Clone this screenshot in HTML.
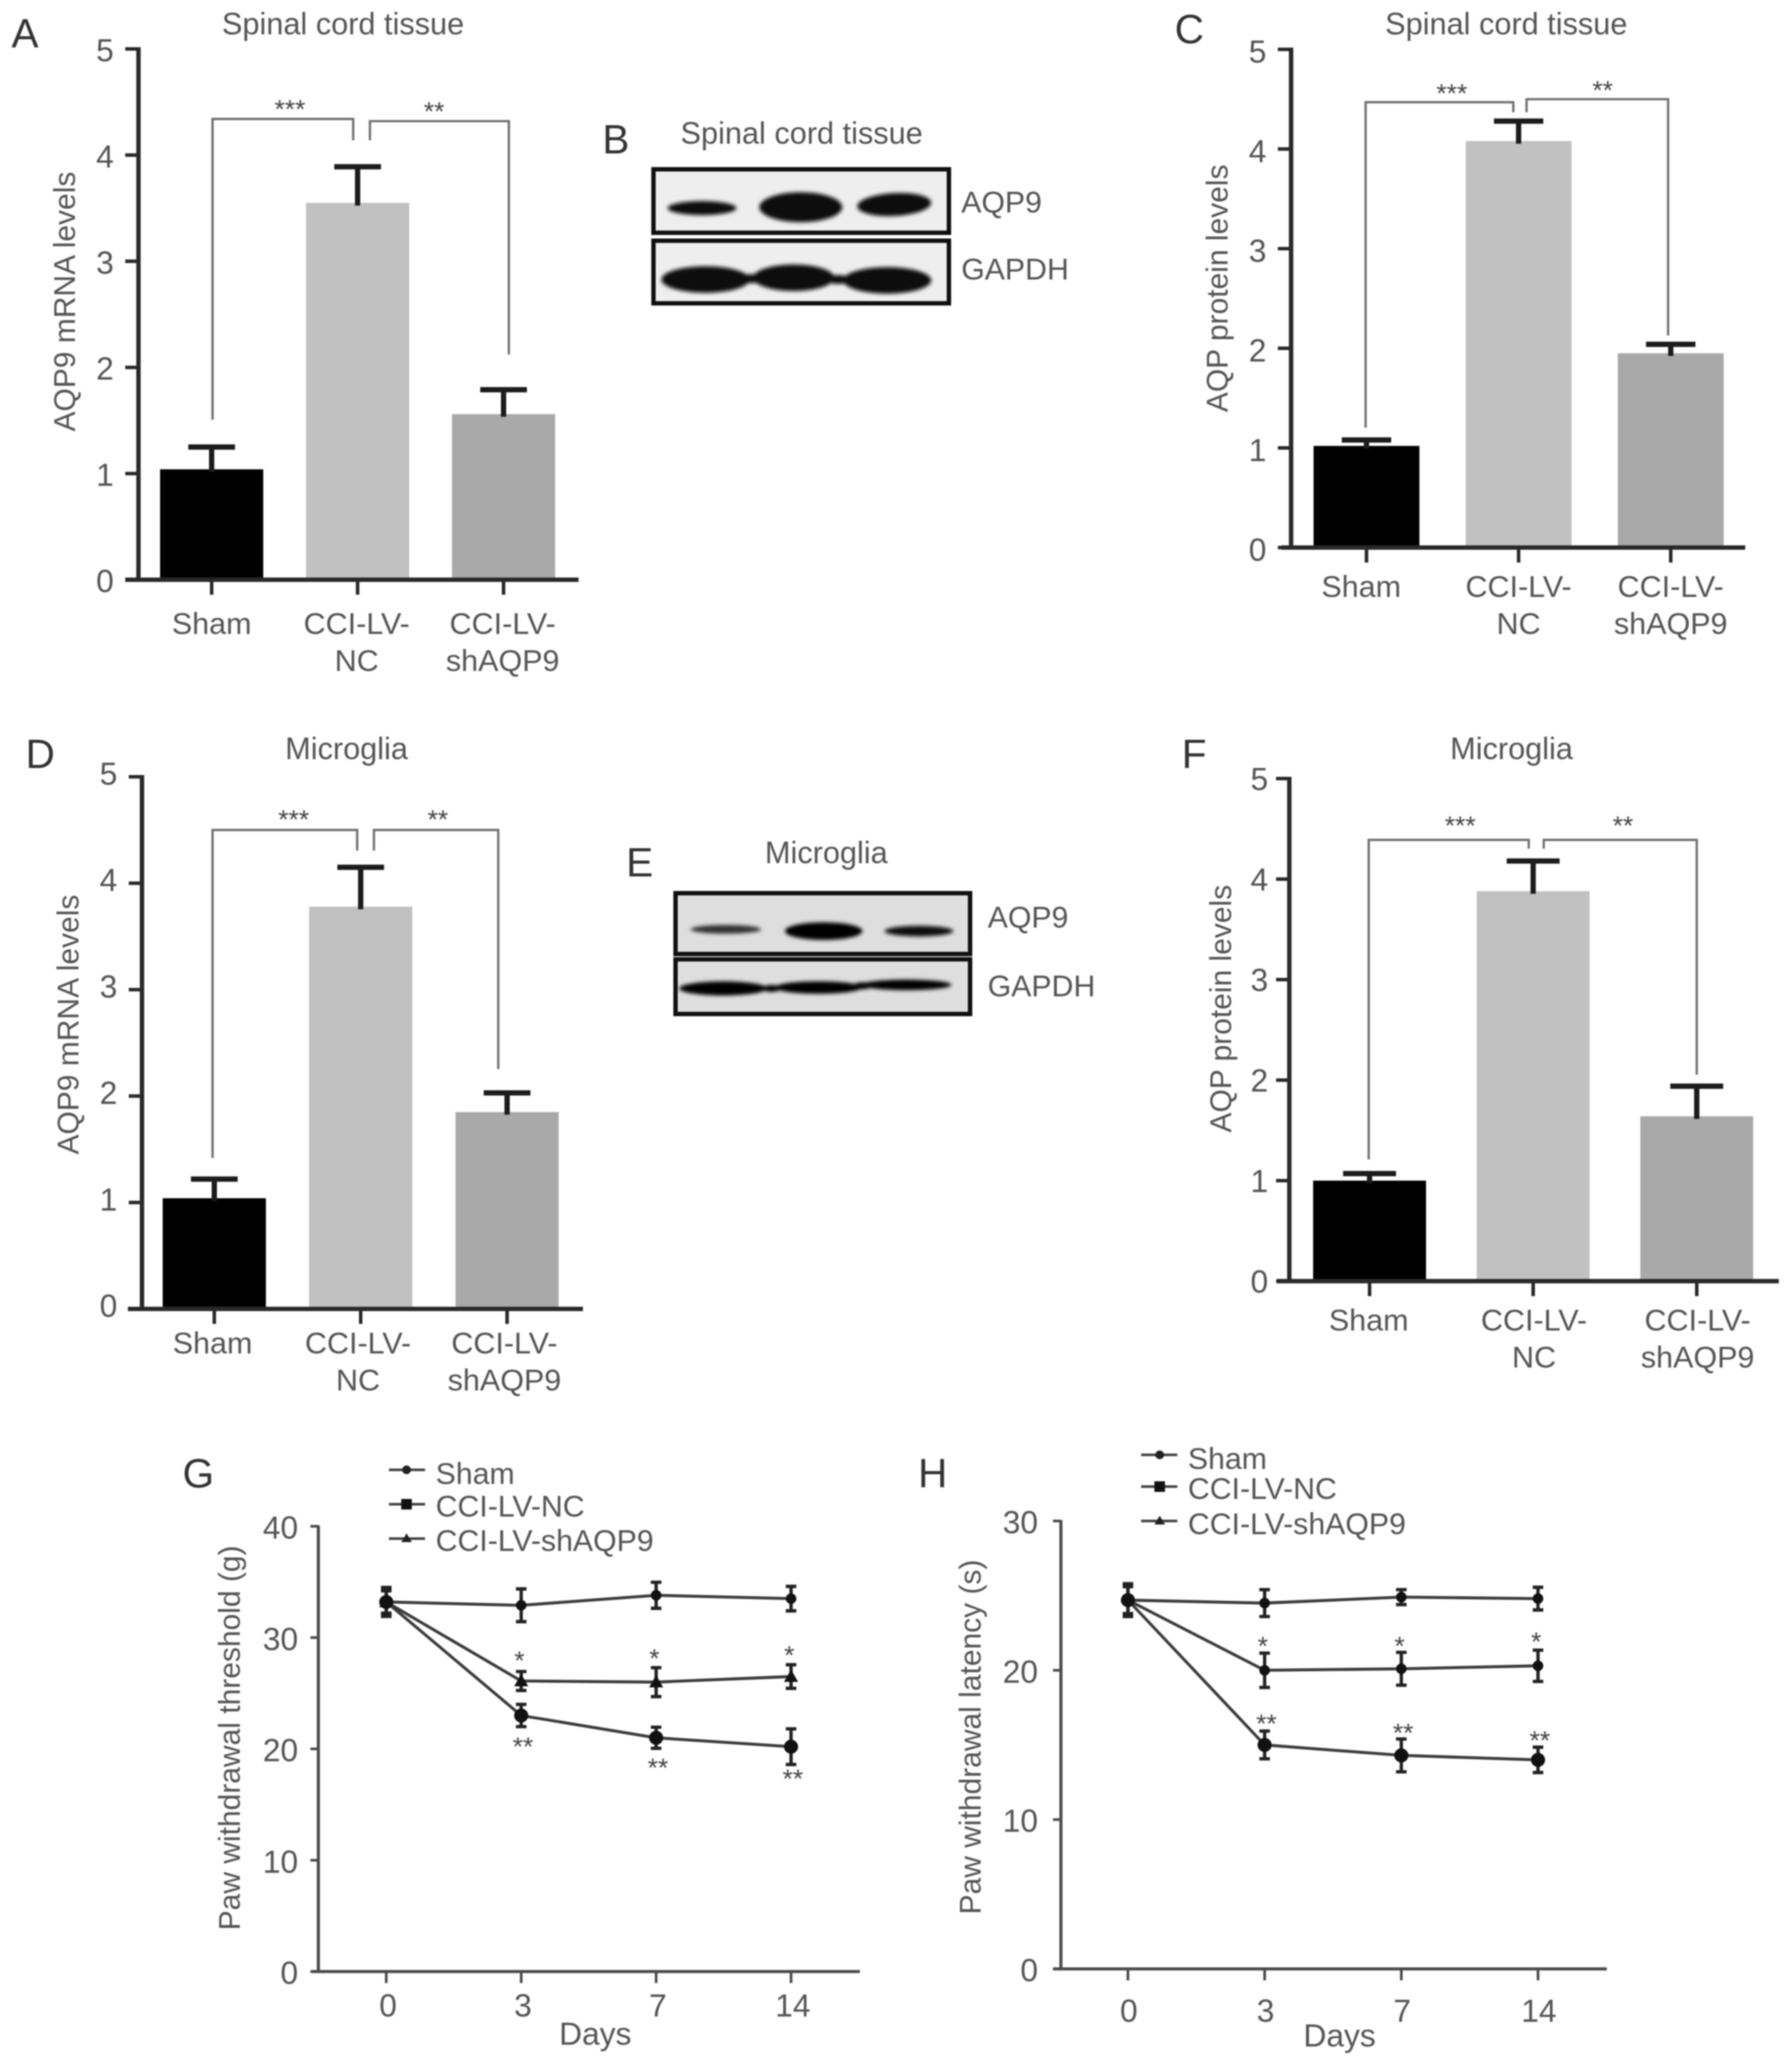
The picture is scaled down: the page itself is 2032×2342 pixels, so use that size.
<!DOCTYPE html>
<html lang="en">
<head>
<meta charset="utf-8">
<title>AQP9 expression and paw withdrawal figure</title>
<style>
html,body{margin:0;padding:0;background:#fff;}
svg{display:block;filter:blur(0.7px);}
text{font-family:"Liberation Sans",sans-serif;fill:#555;}
.letter{font-size:46px;fill:#333;}
.title{font-size:34.8px;text-anchor:middle;}
.ytitle{font-size:34px;text-anchor:middle;}
.tick{font-size:36px;}
.cat{font-size:34.6px;text-anchor:middle;}
.star{font-size:30px;text-anchor:middle;fill:#444;}
.legend{font-size:34.3px;}
</style>
</head>
<body>
<svg id="figure" xmlns="http://www.w3.org/2000/svg" width="2032" height="2342" viewBox="0 0 2032 2342">
<defs>
<filter id="soft" x="-20%" y="-60%" width="140%" height="220%"><feGaussianBlur stdDeviation="2.2"/></filter>
</defs>
<rect width="2032" height="2342" fill="#fff"/>

<!-- Panel letters -->
<text class="letter" x="13" y="54">A</text>
<text class="letter" x="683" y="174">B</text>
<text class="letter" x="1332" y="49">C</text>
<text class="letter" x="29" y="871">D</text>
<text class="letter" x="710" y="994">E</text>
<text class="letter" x="1340" y="871">F</text>
<text class="letter" x="207" y="1687">G</text>
<text class="letter" x="1041" y="1687">H</text>

<!-- Titles -->
<text class="title" x="389" y="39">Spinal cord tissue</text>
<text class="title" x="909" y="163">Spinal cord tissue</text>
<text class="title" x="1708" y="39">Spinal cord tissue</text>
<text class="title" x="393" y="861">Microglia</text>
<text class="title" x="937" y="979">Microglia</text>
<text class="title" x="1714" y="861">Microglia</text>

<!-- Y axis titles -->
<text class="ytitle" transform="translate(85 342) rotate(-90)">AQP9 mRNA levels</text>
<text class="ytitle" transform="translate(1392 327) rotate(-90)">AQP protein levels</text>
<text class="ytitle" transform="translate(89 1162) rotate(-90)">AQP9 mRNA levels</text>
<text class="ytitle" transform="translate(1396 1144) rotate(-90)">AQP protein levels</text>
<text class="ytitle" transform="translate(272 1971) rotate(-90)">Paw withdrawal threshold (g)</text>
<text class="ytitle" transform="translate(1112 1970) rotate(-90)">Paw withdrawal latency (s)</text>

<!-- Western blot B -->
<g>
  <rect x="741" y="192" width="335" height="72" fill="#eeeeee" stroke="#111" stroke-width="5"/>
  <g filter="url(#soft)" fill="#0a0a0a">
    <ellipse cx="796" cy="236" rx="39" ry="8"/>
    <ellipse cx="908" cy="235" rx="47" ry="17"/>
    <ellipse cx="1014" cy="232" rx="42" ry="13" transform="rotate(-3 1014 232)"/>
  </g>
  <rect x="741" y="273" width="335" height="71" fill="#eeeeee" stroke="#111" stroke-width="5"/>
  <g filter="url(#soft)" fill="#0a0a0a">
    <ellipse cx="800" cy="317" rx="50" ry="15"/>
    <ellipse cx="900" cy="315" rx="46" ry="15"/>
    <ellipse cx="1006" cy="318" rx="50" ry="15"/>
    <ellipse cx="852" cy="316" rx="14" ry="5"/>
    <ellipse cx="951" cy="317" rx="14" ry="5"/>
  </g>
  <text class="legend" x="1090" y="241">AQP9</text>
  <text class="legend" x="1090" y="317">GAPDH</text>
</g>

<!-- Western blot E -->
<g>
  <rect x="766" y="1013" width="334" height="69" fill="#dedede" stroke="#111" stroke-width="5"/>
  <g filter="url(#soft)">
    <ellipse cx="823" cy="1054" rx="40" ry="5" fill="#333"/>
    <ellipse cx="934" cy="1056" rx="44" ry="10" fill="#050505"/>
    <ellipse cx="1042" cy="1056" rx="39" ry="6" fill="#0a0a0a"/>
  </g>
  <rect x="766" y="1088" width="334" height="62" fill="#dedede" stroke="#111" stroke-width="5"/>
  <g filter="url(#soft)" fill="#050505">
    <ellipse cx="820" cy="1121" rx="50" ry="8"/>
    <ellipse cx="928" cy="1120" rx="50" ry="7"/>
    <ellipse cx="1028" cy="1117" rx="51" ry="6"/>
    <ellipse cx="875" cy="1121" rx="10" ry="4"/>
    <ellipse cx="978" cy="1118" rx="10" ry="4"/>
  </g>
  <text class="legend" x="1120" y="1052">AQP9</text>
  <text class="legend" x="1120" y="1130">GAPDH</text>
</g>

<!-- Chart containers -->
<g id="panel-a"></g>
<g id="panel-c"></g>
<g id="panel-d"></g>
<g id="panel-f"></g>
<g id="panel-g"></g>
<g id="panel-h"></g>

<!-- Legends -->
<g transform="translate(0 -7)">
  <g>
    <line x1="441" x2="482" y1="1674" y2="1674" stroke="#444" stroke-width="3"/><circle cx="461" cy="1674" r="5" fill="#222"/>
    <text class="legend" x="494" y="1690">Sham</text>
  </g>
  <g>
    <line x1="441" x2="482" y1="1713" y2="1713" stroke="#444" stroke-width="3"/><rect x="455" y="1707" width="12" height="12" fill="#111"/>
    <text class="legend" x="494" y="1727">CCI-LV-NC</text>
  </g>
  <g>
    <line x1="441" x2="482" y1="1752" y2="1752" stroke="#444" stroke-width="3"/><polygon points="461,1746 467,1756 455,1756" fill="#222"/>
    <text class="legend" x="494" y="1766">CCI-LV-shAQP9</text>
  </g>
</g>
<g transform="translate(0 -7)">
  <g>
    <line x1="1294" x2="1335" y1="1657" y2="1657" stroke="#444" stroke-width="3"/><circle cx="1315" cy="1657" r="5" fill="#222"/>
    <text class="legend" x="1347" y="1673">Sham</text>
  </g>
  <g>
    <line x1="1294" x2="1335" y1="1693" y2="1693" stroke="#444" stroke-width="3"/><rect x="1309" y="1687" width="12" height="12" fill="#111"/>
    <text class="legend" x="1347" y="1707">CCI-LV-NC</text>
  </g>
  <g>
    <line x1="1294" x2="1335" y1="1732" y2="1732" stroke="#444" stroke-width="3"/><polygon points="1315,1726 1321,1736 1309,1736" fill="#222"/>
    <text class="legend" x="1347" y="1747">CCI-LV-shAQP9</text>
  </g>
</g>
</svg>

<script>
// ---------- Bar chart data ----------
const barCategories = [['Sham'], ['CCI-LV-', 'NC'], ['CCI-LV-', 'shAQP9']];
const barTickLabels = [0, 1, 2, 3, 4, 5];
const barFills = ['#000000', '#c1c1c1', '#a9a9a9'];

const panelAMeans = [1.04, 3.55, 1.56];
const panelAErrors = [0.21, 0.34, 0.23];
const panelABracketLevels = [4.34, 4.32];

const panelCMeans = [1.02, 4.08, 1.95];
const panelCErrors = [0.06, 0.2, 0.09];
const panelCBracketLevels = [4.47, 4.5];

const panelDMeans = [1.04, 3.78, 1.85];
const panelDErrors = [0.18, 0.37, 0.18];
const panelDBracketLevels = [4.5, 4.5];

const panelFMeans = [1.0, 3.88, 1.64];
const panelFErrors = [0.07, 0.3, 0.3];
const panelFBracketLevels = [4.39, 4.39];

const bracketStars = ['***', '**'];

// ---------- Line chart data ----------
const lineDays = ['0', '3', '7', '14'];

const panelGTickLabels = [0, 10, 20, 30, 40];
const panelGSham = [33.2, 32.9, 33.8, 33.5];
const panelGShamErr = [1.3, 1.47, 1.17, 1.1];
const panelGShAqp9 = [33.2, 26.1, 26.0, 26.5];
const panelGShAqp9Err = [1.2, 0.85, 1.3, 1.06];
const panelGNc = [33.2, 23.0, 21.0, 20.2];
const panelGNcErr = [1.0, 1.0, 0.95, 1.6];
const panelGUpperStarLevels = [28.3, 28.5, 28.8];
const panelGLowerStarLevels = [20.6, 18.7, 17.7];

const panelHTickLabels = [0, 10, 20, 30];
const panelHSham = [24.7, 24.5, 24.9, 24.8];
const panelHShamErr = [1.1, 0.9, 0.5, 0.76];
const panelHShAqp9 = [24.7, 20.0, 20.1, 20.3];
const panelHShAqp9Err = [1.0, 1.15, 1.1, 1.05];
const panelHNc = [24.7, 15.0, 14.3, 14.0];
const panelHNcErr = [0.9, 0.93, 1.1, 0.85];
const panelHUpperStarLevels = [21.9, 21.9, 22.2];
const panelHLowerStarLevels = [16.7, 16.1, 15.6];

// ---------- Drawing ----------
const NS = 'http://www.w3.org/2000/svg';
function make(parent, tag, props, text) {
  const node = document.createElementNS(NS, tag);
  for (const key in props) node.setAttribute(key, props[key]);
  if (text !== undefined) node.textContent = text;
  parent.appendChild(node);
  return node;
}

function drawBarChart(id, layout, means, errors, levels) {
  const root = document.getElementById(id);
  const yScale = v => layout.y0 - v * (layout.y0 - layout.y5) / 5;
  const xScale = i => layout.c0 + i * layout.step;

  means.forEach((m, i) => {
    const bar = make(root, 'rect', {x: xScale(i) - layout.barW / 2, y: yScale(m), width: layout.barW, height: layout.y0 - yScale(m), fill: barFills[i]});
    
    

    const top = yScale(m + errors[i]);
    const stem = make(root, 'line', {x1: xScale(i), x2: xScale(i), y1: yScale(m) + 3, y2: top, stroke: '#1c1c1c', 'stroke-width': 6});
    
    
    const cap = make(root, 'line', {x1: xScale(i) - layout.cap / 2, x2: xScale(i) + layout.cap / 2, y1: top, y2: top, stroke: '#1c1c1c', 'stroke-width': 6});
    
    

    const tick = make(root, 'line', {x1: xScale(i), x2: xScale(i), y1: layout.y0, y2: layout.y0 + 17, stroke: '#2a2a2a', 'stroke-width': 4});
    
    

    barCategories[i].forEach((line, k) => {
      const dx = i === 0 ? layout.firstLabelDx : layout.labelDx;
      const label = make(root, 'text', {class: 'cat', x: xScale(i) + dx, y: layout.labelY + k * layout.lineGap}, line);
      
      
    });
  });

  const yAxis = make(root, 'line', {x1: layout.axisX, x2: layout.axisX, y1: layout.y5 - 2, y2: layout.y0 + 2, stroke: '#2a2a2a', 'stroke-width': 5});
  
  
  const xAxis = make(root, 'line', {x1: layout.xLeft, x2: layout.xRight, y1: layout.y0, y2: layout.y0, stroke: '#2a2a2a', 'stroke-width': 5});
  
  

  barTickLabels.forEach(v => {
    const tick = make(root, 'line', {x1: layout.axisX - 15, x2: layout.axisX, y1: yScale(v), y2: yScale(v), stroke: '#2a2a2a', 'stroke-width': 4});
    
    
    const label = make(root, 'text', {class: 'tick', x: layout.axisX - layout.tickGap, y: yScale(v) + layout.tickDy, 'text-anchor': 'end'}, String(v));
    
    
  });

  // Significance brackets hang off the error bars
  const errTop = i => yScale(means[i] + errors[i]);
  const leftTop = yScale(levels[0]);
  const rightTop = yScale(levels[1]);
  const lx0 = xScale(0) + layout.bx[0], lx1 = xScale(1) + layout.bx[1];
  const rx0 = xScale(1) + layout.bx[2], rx1 = xScale(2) + layout.bx[3];
  const left = make(root, 'path', {d: `M${lx0} ${errTop(0) - layout.legGap[0]}V${leftTop}H${lx1}V${errTop(1) - layout.legGap[1]}`, fill: 'none', stroke: '#6e6e6e', 'stroke-width': 2.6});
  
  
  const right = make(root, 'path', {d: `M${rx0} ${errTop(1) - layout.legGap[1]}V${rightTop}H${rx1}V${errTop(2) - layout.legGap[2]}`, fill: 'none', stroke: '#6e6e6e', 'stroke-width': 2.6});
  
  
  const s1 = make(root, 'text', {class: 'star', x: (lx0 + lx1) / 2 + layout.starDx[0], y: leftTop + layout.starDy}, bracketStars[0]);
  
  
  const s2 = make(root, 'text', {class: 'star', x: (rx0 + rx1) / 2 + layout.starDx[1], y: rightTop + layout.starDy}, bracketStars[1]);
  
  
}

function drawLineChart(id, layout, ticks, seriesList, upperStars, lowerStars) {
  const root = document.getElementById(id);
  const yMax = ticks[ticks.length - 1];
  const yScale = v => layout.y0 - v * (layout.y0 - layout.yTop) / yMax;
  const xScale = i => layout.x0 + i * layout.step;

  const yAxis = make(root, 'line', {x1: layout.axisX, x2: layout.axisX, y1: layout.yTop - 1, y2: layout.y0 + 1, stroke: '#4a4a4a', 'stroke-width': 3.5});
  
  
  const xAxis = make(root, 'line', {x1: layout.xLeft, x2: layout.xRight, y1: layout.y0, y2: layout.y0, stroke: '#4a4a4a', 'stroke-width': 3.5});
  
  

  ticks.forEach(v => {
    const tick = make(root, 'line', {x1: layout.axisX - 9, x2: layout.axisX, y1: yScale(v), y2: yScale(v), stroke: '#4a4a4a', 'stroke-width': 3});
    
    
    const label = make(root, 'text', {class: 'tick', x: layout.axisX - layout.tickGap, y: yScale(v) + 14, 'text-anchor': 'end'}, String(v));
    
    
  });

  lineDays.forEach((d, i) => {
    const tick = make(root, 'line', {x1: xScale(i), x2: xScale(i), y1: layout.y0, y2: layout.y0 + 13, stroke: '#4a4a4a', 'stroke-width': 3});
    
    
    const label = make(root, 'text', {class: 'tick', x: xScale(i) + layout.dayDx, y: layout.dayLabelY, 'text-anchor': 'middle'}, d);
    
    
  });

  const days = make(root, 'text', {class: 'tick', x: layout.daysX, y: layout.daysY, 'text-anchor': 'middle'}, 'Days');
  
  

  seriesList.forEach(series => {
    const points = series.values.map((v, i) => `${xScale(i)},${yScale(v)}`).join(' ');
    const line = make(root, 'polyline', {points: points, fill: 'none', stroke: '#3c3c3c', 'stroke-width': 3.4});
    
    

    series.values.forEach((v, i) => {
      const cx = xScale(i), cy = yScale(v);
      const hi = yScale(v + series.errors[i]), lo = yScale(v - series.errors[i]);
      const err = make(root, 'path', {d: `M${cx} ${hi}V${lo}M${cx - 6} ${hi}H${cx + 6}M${cx - 6} ${lo}H${cx + 6}`, fill: 'none', stroke: '#222', 'stroke-width': 3.8});
      
      
      const point = series.marker === 'triangle'
        ? make(root, 'polygon', {points: `${cx},${cy - 8} ${cx + 8},${cy + 6} ${cx - 8},${cy + 6}`, fill: '#111'})
        : make(root, 'circle', {cx: cx, cy: cy, r: series.radius, fill: '#111'});
      
      
    });
  });

  upperStars.forEach((v, i) => {
    const s = make(root, 'text', {class: 'star', x: xScale(i + 1) - 2, y: yScale(v) + 15}, '*');
    
    
  });
  lowerStars.forEach((v, i) => {
    const s = make(root, 'text', {class: 'star', x: xScale(i + 1) + 2, y: yScale(v) + 15}, '**');
    
    
  });
}

drawBarChart('panel-a',
  {axisX: 157, y0: 657.5, y5: 55.5, xLeft: 142, xRight: 656, c0: 240, step: 165.5, barW: 117, cap: 53, tickGap: 28, tickDy: 14,
   labelY: 719, lineGap: 42, firstLabelDx: 0, labelDx: -1, bx: [1, -5, 14, 6], legGap: [31, 30, 40], starDx: [8, -6], starDy: -1},
  panelAMeans, panelAErrors, panelABracketLevels);

drawBarChart('panel-c',
  {axisX: 1464, y0: 621, y5: 56, xLeft: 1453, xRight: 1979, c0: 1549.5, step: 172.5, barW: 120, cap: 56, tickGap: 28, tickDy: 15,
   labelY: 677, lineGap: 42, firstLabelDx: -6, labelDx: 0, bx: [-1, -6, 9, -3], legGap: [14, 10, 10], starDx: [14, 6], starDy: 0},
  panelCMeans, panelCErrors, panelCBracketLevels);

drawBarChart('panel-d',
  {axisX: 161, y0: 1484.5, y5: 881, xLeft: 145, xRight: 661, c0: 243, step: 166, barW: 117, cap: 53, tickGap: 28, tickDy: 9,
   labelY: 1535, lineGap: 42, firstLabelDx: -2, labelDx: -3, bx: [-2, -4, 15, -10], legGap: [24, 19, 27], starDx: [10, 2], starDy: -2},
  panelDMeans, panelDErrors, panelDBracketLevels);

drawBarChart('panel-f',
  {axisX: 1462, y0: 1453, y5: 883, xLeft: 1448, xRight: 2017, c0: 1553, step: 185.5, barW: 128, cap: 60, tickGap: 24, tickDy: 13,
   labelY: 1509, lineGap: 42, firstLabelDx: -1, labelDx: 1, bx: [-1, -5, 12, 0], legGap: [16, 14, 13], starDx: [13, 3], starDy: -6},
  panelFMeans, panelFErrors, panelFBracketLevels);

drawLineChart('panel-g',
  {axisX: 361, y0: 2236, yTop: 1731, xLeft: 353, xRight: 975, x0: 438, step: 153, tickGap: 23, dayDx: 2, dayLabelY: 2287, daysX: 675, daysY: 2319},
  panelGTickLabels,
  [{values: panelGSham, errors: panelGShamErr, marker: 'circle', radius: 6},
   {values: panelGShAqp9, errors: panelGShAqp9Err, marker: 'triangle', radius: 6},
   {values: panelGNc, errors: panelGNcErr, marker: 'circle', radius: 8}],
  panelGUpperStarLevels, panelGLowerStarLevels);

drawLineChart('panel-h',
  {axisX: 1203, y0: 2233, yTop: 1725, xLeft: 1194, xRight: 1822, x0: 1279, step: 155, tickGap: 26, dayDx: 1, dayLabelY: 2293, daysX: 1519, daysY: 2321},
  panelHTickLabels,
  [{values: panelHSham, errors: panelHShamErr, marker: 'circle', radius: 6},
   {values: panelHShAqp9, errors: panelHShAqp9Err, marker: 'circle', radius: 6},
   {values: panelHNc, errors: panelHNcErr, marker: 'circle', radius: 8}],
  panelHUpperStarLevels, panelHLowerStarLevels);
</script>
</body>
</html>
